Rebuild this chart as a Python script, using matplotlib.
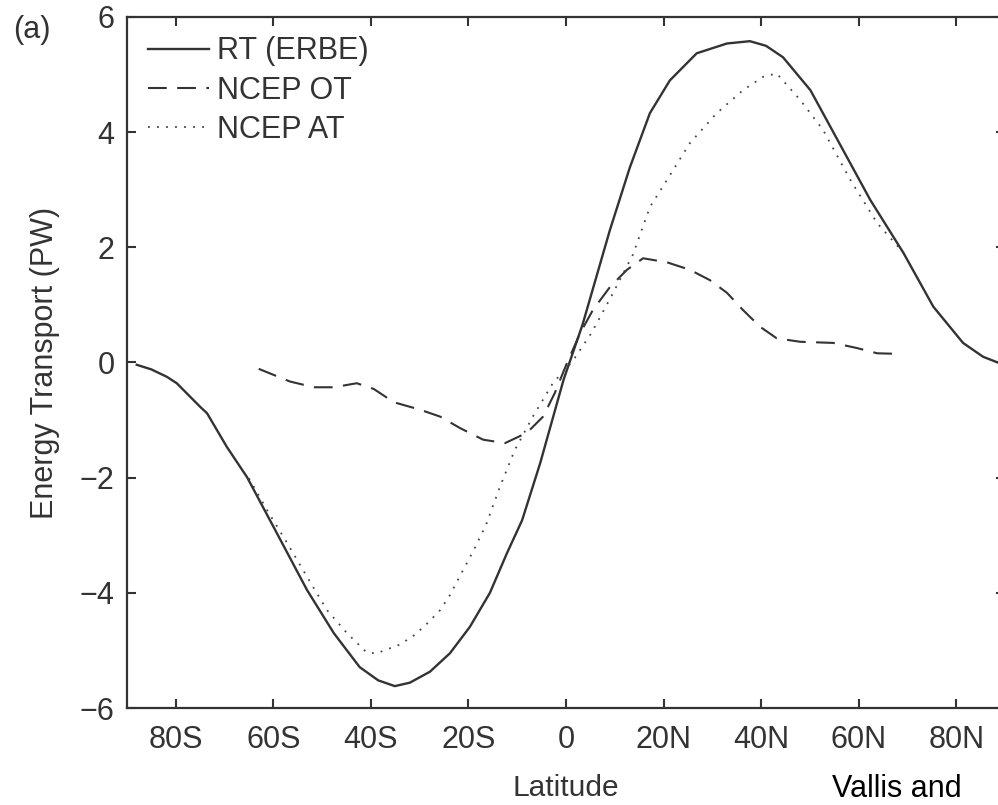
import matplotlib
matplotlib.use('Agg')
import matplotlib.pyplot as plt

plt.rcParams['font.family'] = ['Liberation Sans', 'DejaVu Sans']

# RT (ERBE) - total radiative transport
rt_lat = [-88, -85, -81.8, -79.8, -75, -73.6, -69.5, -65.4, -59.3, -53.1, -47.6,
          -42.3, -38.5, -35.1, -32.0, -27.9, -23.8, -19.7, -15.6, -12.1, -9.0,
          -5.3, -0.5, 3.4, 9.0, 13.1, 17.2, 21.3, 26.8, 33.0, 37.7, 41.0, 44.5, 50.1,
          56.8, 62.4, 69.2, 75.3, 81.4, 85.5, 88.5]
rt_val = [-0.04, -0.12, -0.25, -0.36, -0.77, -0.88, -1.47, -1.99, -2.96, -3.95, -4.70,
          -5.29, -5.52, -5.62, -5.56, -5.37, -5.05, -4.59, -4.00, -3.31, -2.74,
          -1.75, -0.30, 0.66, 2.30, 3.39, 4.33, 4.90, 5.37, 5.54, 5.58, 5.50, 5.30, 4.73,
          3.69, 2.82, 1.90, 0.97, 0.34, 0.10, 0.0]

# NCEP ocean transport
ot_lat = [-63.0, -56.6, -51.7, -47.6, -42.9, -39.4, -35.3, -29.9, -25.8, -21.7,
          -17.0, -12.5, -8.0, -4.7, -2.3, 0.2, 2.9, 5.5, 9.0, 12.5, 15.8, 20.7,
          25.4, 29.5, 33.0, 36.3, 39.8, 43.2, 48.0, 54.8, 59.7, 63.8, 68.1]
ot_val = [-0.11, -0.33, -0.43, -0.43, -0.36, -0.46, -0.69, -0.82, -0.94, -1.14,
          -1.34, -1.40, -1.22, -0.94, -0.53, -0.01, 0.51, 0.91, 1.31, 1.61, 1.81, 1.74,
          1.61, 1.43, 1.21, 0.91, 0.62, 0.42, 0.36, 0.34, 0.25, 0.16, 0.15]

# NCEP atmospheric transport
at_lat = [-65.0, -61.3, -57.2, -53.1, -49.0, -44.9, -40.8, -38.8, -34.1, -31.0,
          -28.3, -25.8, -23.8, -22.2, -20.3, -18.7, -16.4, -13.5, -10.5, -6.8, -2.7,
          1.4, 5.2, 9.3, 13.7, 17.2, 20.7, 25.4, 30.9, 36.3, 40.4, 43.2, 48.0,
          52.7, 58.3, 63.8, 68.1]
at_val = [-2.01, -2.56, -3.13, -3.72, -4.30, -4.70, -5.04, -5.05, -4.90, -4.73,
          -4.52, -4.30, -4.04, -3.78, -3.48, -3.22, -2.82, -2.15, -1.52, -0.94, -0.36,
          0.03, 0.51, 1.15, 1.87, 2.70, 3.17, 3.81, 4.33, 4.73, 4.96, 5.02, 4.56,
          4.04, 3.17, 2.42, 2.01]

xticks = [-80, -60, -40, -20, 0, 20, 40, 60, 80]
xticklabels = ['80S', '60S', '40S', '20S', '0', '20N', '40N', '60N', '80N']
yticks = [-6, -4, -2, 0, 2, 4, 6]
yticklabels = ['\u22126', '\u22124', '\u22122', '0', '2', '4', '6']

ink = '#333333'
fig = plt.figure(figsize=(9.98, 8.05), dpi=100)
# axes runs a bit past the right edge, like the cropped original
ax = fig.add_axes([127 / 998, 97 / 805, 878 / 998, 691 / 805])

ax.plot(rt_lat, rt_val, color=ink, lw=1.7, label='RT (ERBE)')
ax.plot(ot_lat, ot_val, color=ink, lw=1.5, dashes=(9, 5), label='NCEP OT')
ax.plot(at_lat, at_val, color='#444444', lw=1.3, linestyle=(0, (1, 4)), label='NCEP AT')

ax.set_xlim(-90, 90)
ax.set_ylim(-6, 6)
ax.set_xticks(xticks)
ax.set_xticklabels(xticklabels)
ax.set_yticks(yticks)
ax.set_yticklabels(yticklabels)
ax.tick_params(direction='in', length=6.5, width=1.5, color=ink, labelcolor=ink,
               labelsize=22, top=True, right=True)
ax.tick_params(axis='x', pad=12)
ax.tick_params(axis='y', pad=9)
for s in ax.spines.values():
    s.set_linewidth(1.6)
    s.set_color(ink)

ax.set_xlabel('Latitude', fontsize=21.5, color=ink, labelpad=14)
ax.set_ylabel('Energy Transport (PW)', fontsize=22, color=ink, labelpad=14)

ax.legend(loc='upper left', bbox_to_anchor=(0.024, 0.972), frameon=False,
          fontsize=22, handlelength=2.0, handletextpad=0.25, labelspacing=0.3,
          borderaxespad=0, borderpad=0, labelcolor=ink)

fig.text(13 / 998, 1 - 30 / 805, '(a)', fontsize=22, color=ink, va='center', ha='left')
fig.text(832 / 998, 8 / 805, 'Vallis and', fontsize=22, color='black', va='baseline', ha='left')

fig.savefig('out.png', dpi=100)
